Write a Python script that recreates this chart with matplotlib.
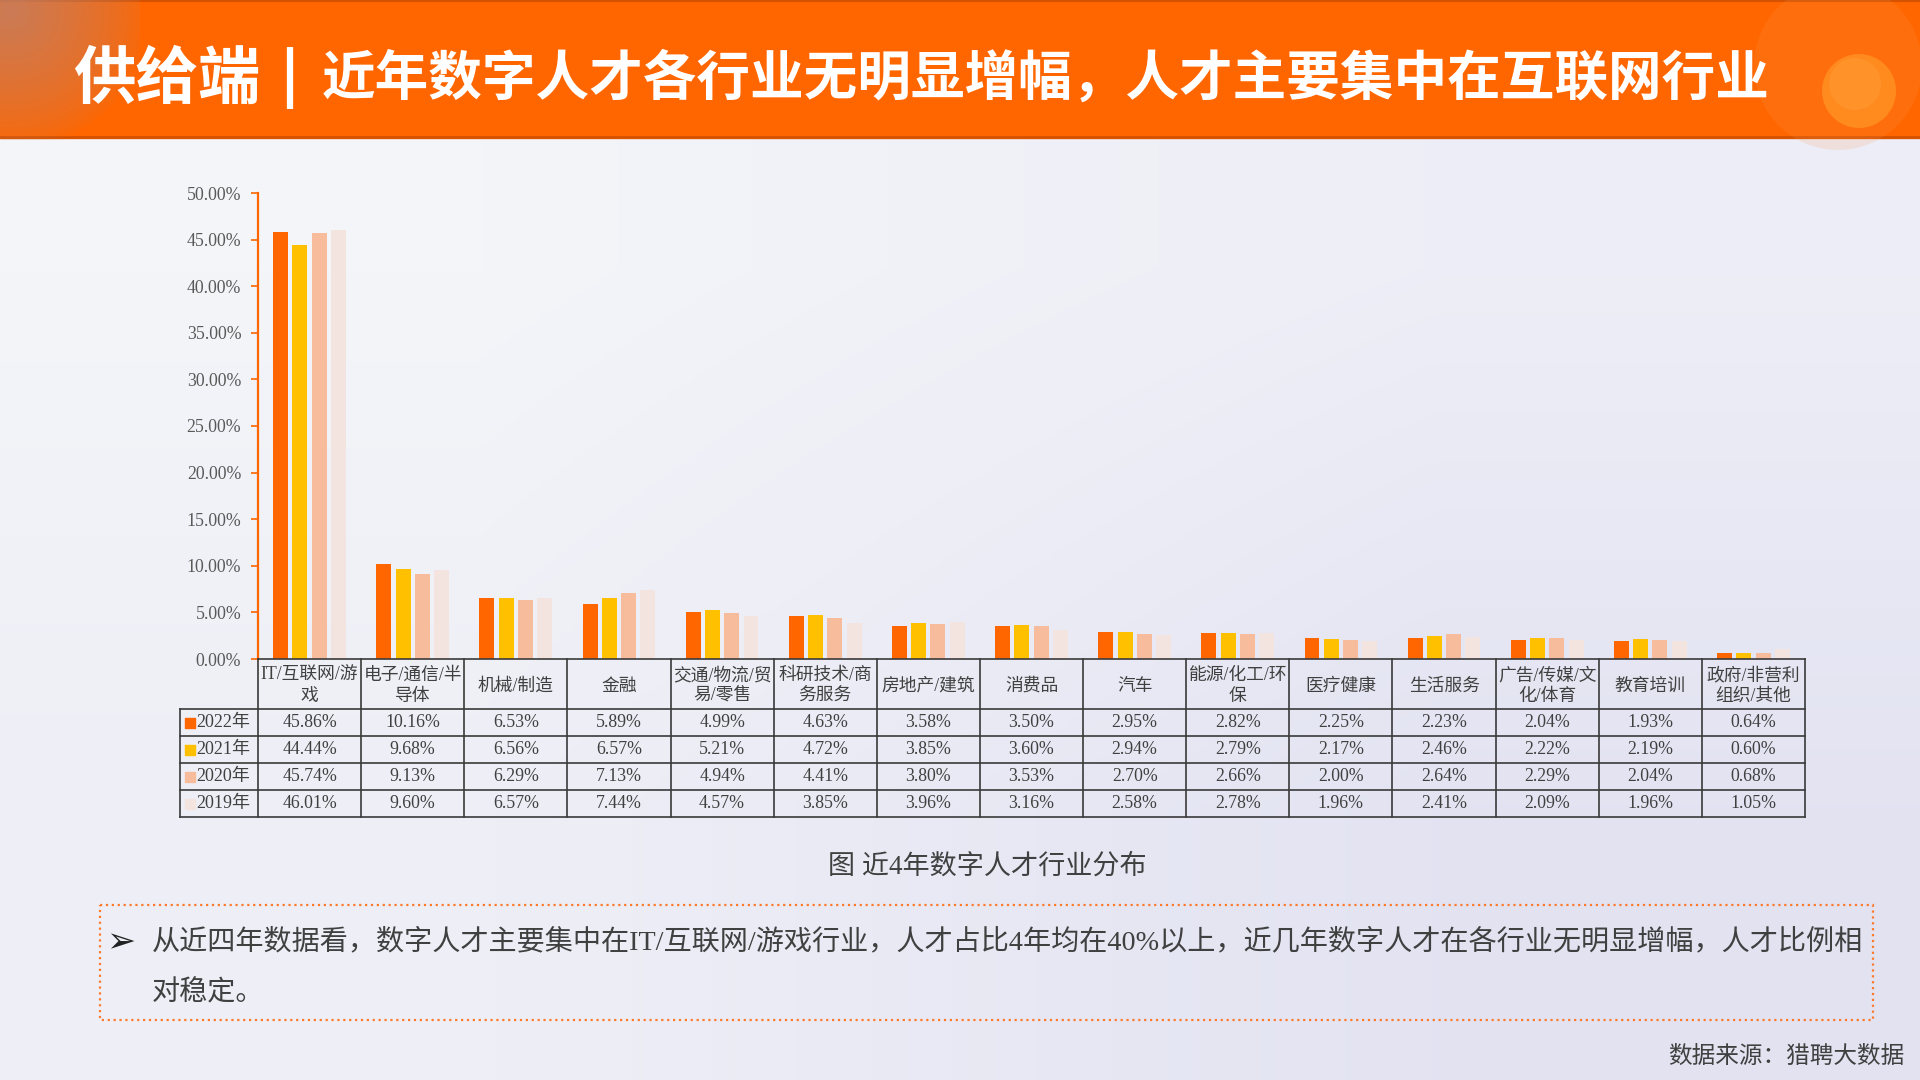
import matplotlib.pyplot as plt
import matplotlib.patches as mpatches
import numpy as np

plt.rcParams['font.family'] = ['Liberation Serif', 'Noto Sans CJK SC']

# data
industries = ['IT/互联网/游\n戏', '电子/通信/半\n导体', '机械/制造', '金融', '交通/物流/贸\n易/零售',
              '科研技术/商\n务服务', '房地产/建筑', '消费品', '汽车', '能源/化工/环\n保',
              '医疗健康', '生活服务', '广告/传媒/文\n化/体育', '教育培训', '政府/非营利\n组织/其他']
years = ['2022年', '2021年', '2020年', '2019年']
v2022 = [45.86, 10.16, 6.53, 5.89, 4.99, 4.63, 3.58, 3.50, 2.95, 2.82, 2.25, 2.23, 2.04, 1.93, 0.64]
v2021 = [44.44, 9.68, 6.56, 6.57, 5.21, 4.72, 3.85, 3.60, 2.94, 2.79, 2.17, 2.46, 2.22, 2.19, 0.60]
v2020 = [45.74, 9.13, 6.29, 7.13, 4.94, 4.41, 3.80, 3.53, 2.70, 2.66, 2.00, 2.64, 2.29, 2.04, 0.68]
v2019 = [46.01, 9.60, 6.57, 7.44, 4.57, 3.85, 3.96, 3.16, 2.58, 2.78, 1.96, 2.41, 2.09, 1.96, 1.05]
series = [v2022, v2021, v2020, v2019]
yticks = [0, 5, 10, 15, 20, 25, 30, 35, 40, 45, 50]

title_a = '供给端'
title_b = '近年数字人才各行业无明显增幅，人才主要集中在互联网行业'
caption = '图 近4年数字人才行业分布'
note1 = '从近四年数据看，数字人才主要集中在IT/互联网/游戏行业，人才占比4年均在40%以上，近几年数字人才在各行业无明显增幅，人才比例相'
note2 = '对稳定。'
source = '数据来源：猎聘大数据'

colors = ['#FF6600', '#FFC000', '#F7BC9C', '#F3E4DF']
txt = '#404040'
W, H = 1920, 1080

fig = plt.figure(figsize=(19.2, 10.8), dpi=100)

# full figure overlay in pixel coords
bg = fig.add_axes([0, 0, 1, 1])
bg.set_xlim(0, W)
bg.set_ylim(H, 0)
bg.axis('off')
grad = np.array([[[0.957, 0.961, 0.976], [0.929, 0.933, 0.965]],
                 [[0.933, 0.937, 0.965], [0.890, 0.890, 0.949]]])
bg.imshow(grad, extent=(0, W, H, 0), interpolation='bilinear', aspect='auto', zorder=0)

# header
bg.add_patch(mpatches.Rectangle((0, 0), W, 138, color='#FF6600', zorder=1))
bg.plot([0, W], [137, 137], color='#D45200', lw=2, zorder=2)
bg.plot([0, W], [1, 1], color='#D45200', lw=1.5, zorder=2)
yy, xx = np.mgrid[0:140, 0:140]
d = np.sqrt((xx - 10.0) ** 2 + (yy - 10.0) ** 2)
blob = np.zeros((140, 140, 4))
blob[..., 0], blob[..., 1], blob[..., 2] = 0.76, 0.50, 0.40
blob[..., 3] = 0.85 * np.clip(1 - d / 140, 0, 1) ** 0.7
bg.imshow(blob, extent=(0, 140, 140, 0), zorder=2)
bg.add_patch(mpatches.Circle((1838, 66), 84, color='#FF9A55', alpha=0.16, lw=0, zorder=2))
bg.add_patch(mpatches.Circle((1859, 91), 37, color='#FF8A1E', lw=0, zorder=3))
bg.add_patch(mpatches.Circle((1855, 84), 26, color='#FF9B35', alpha=0.55, lw=0, zorder=3))
bg.text(73, 79, title_a, color='white', fontsize=45, fontweight='bold',
        family=['Noto Sans CJK SC'], ha='left', va='center', zorder=4)
bg.plot([290, 290], [47, 109], color='white', lw=4.5, solid_capstyle='butt', zorder=4)
bg.text(322, 79, title_b, color='white', fontsize=38.6, fontweight='bold',
        family=['Noto Sans CJK SC'], ha='left', va='center', zorder=4)

# caption, note, source
bg.text(987, 867, caption, color=txt, fontsize=19.5, ha='center', va='center')
bg.add_patch(mpatches.Rectangle((100, 905), 1773, 115, fill=False, edgecolor='#FF7A2A',
                                ls=':', lw=1.6))
bg.text(106, 942, '➢', family=['DejaVu Sans'], color='#222222', fontsize=25, ha='left', va='center')
bg.text(152, 942, note1, color=txt, fontsize=20.25, ha='left', va='center')
bg.text(152, 993, note2, color=txt, fontsize=20.25, ha='left', va='center')
bg.text(1904, 1057, source, color=txt, fontsize=17, ha='right', va='center')

# bar chart
x0, x1, ytop, y0 = 258, 1805, 193, 659
ax = fig.add_axes([x0 / W, (H - y0) / H, (x1 - x0) / W, (y0 - ytop) / H])
ax.set_facecolor('none')
n = len(industries)
idx = np.arange(n)
offsets = [-0.28, -0.093, 0.093, 0.28]
for s, vals in enumerate(series):
    ax.bar(idx + offsets[s], vals, width=0.145, color=colors[s], label=years[s], zorder=2)
ax.set_xlim(-0.5, n - 0.5)
ax.set_ylim(0, 50)
ax.set_yticks(yticks)
ax.set_yticklabels(['%.2f%%' % t for t in yticks], color='#595959', fontsize=12.8)
ax.tick_params(axis='y', colors='#FF6600', labelcolor='#595959', length=5, width=1.2, pad=7)
ax.set_xticks([])
for sp in ['top', 'right']:
    ax.spines[sp].set_visible(False)
ax.spines['left'].set_color('#FF6600')
ax.spines['left'].set_linewidth(1.6)
ax.spines['bottom'].set_color('#3A3A3A')
ax.spines['bottom'].set_linewidth(1.2)

# data table under the bars
lab_w = 78 / ((x1 - x0) / n)
tx0 = -0.5 - lab_w
tb = 817
rows = [659, 709, 736, 763, 790, 817]
tab = fig.add_axes([180 / W, (H - tb) / H, (x1 - 180) / W, (tb - 659) / H])
tab.set_xlim(tx0, n - 0.5)
tab.set_ylim(tb, 659)
tab.axis('off')
lc = '#3A3A3A'
for k in range(n + 1):
    tab.plot([k - 0.5, k - 0.5], [rows[0], rows[-1]], color=lc, lw=1.2, clip_on=False)
tab.plot([tx0, tx0], [rows[1], rows[-1]], color=lc, lw=1.2, clip_on=False)
for r in rows[1:]:
    tab.plot([tx0, n - 0.5], [r, r], color=lc, lw=1.2, clip_on=False)
for i, name in enumerate(industries):
    tab.text(i, (rows[0] + rows[1]) / 2 + 2, name, color=txt, fontsize=12.8, ha='center',
             va='center', linespacing=1.3)
for s, vals in enumerate(series):
    yc = (rows[s + 1] + rows[s + 2]) / 2
    tab.scatter([tx0 + 0.1], [yc], marker='s', s=42, color=colors[s], clip_on=False)
    tab.text(tx0 + 0.16, yc, years[s], color=txt, fontsize=13, ha='left', va='center')
    for i, v in enumerate(vals):
        tab.text(i, yc, '%.2f%%' % v, color=txt, fontsize=12.8, ha='center', va='center')

fig.savefig('out.png', dpi=100)
